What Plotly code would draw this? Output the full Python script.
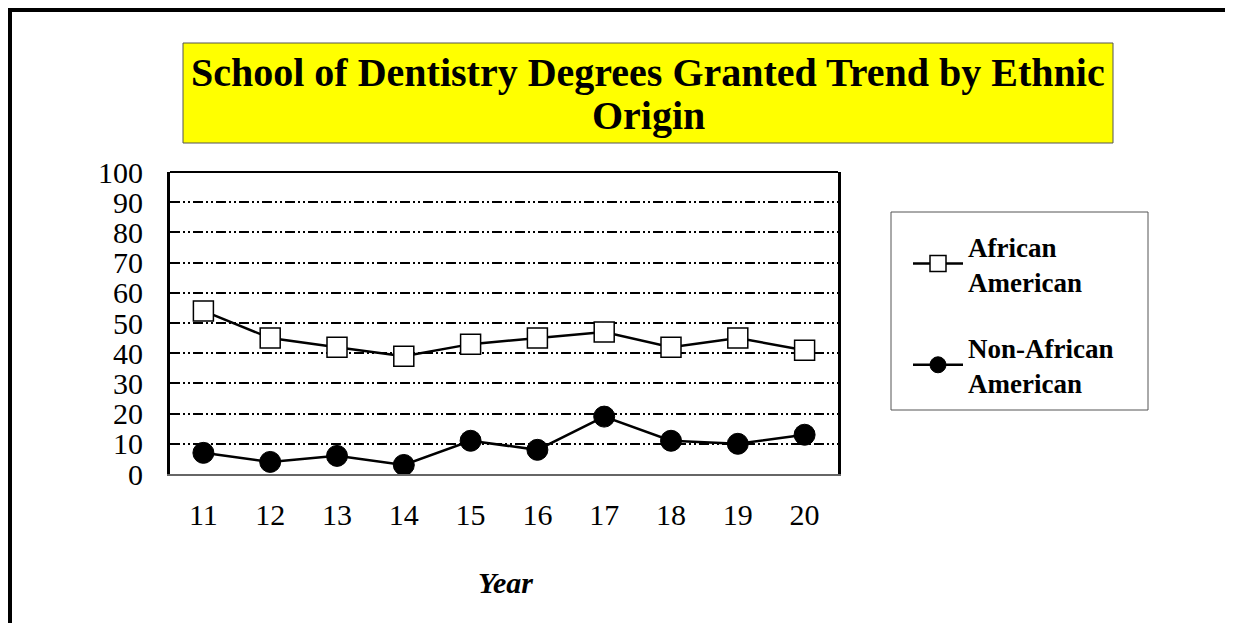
import plotly.graph_objects as go

years = ["11", "12", "13", "14", "15", "16", "17", "18", "19", "20"]
african_american = [54, 45, 42, 39, 43, 45, 47, 42, 45, 41]
non_african_american = [7, 4, 6, 3, 11, 8, 19, 11, 10, 13]

SERIF = "Liberation Serif, Times New Roman, serif"

# the page puts the figure 8px in from the window corner
OFF = 8
W, H = 1233 - OFF, 623 - OFF
# plot area in window pixels: x 170..838, y 172..474
L, R, T, B = 170 - OFF, 838 - OFF, 172 - OFF, 474 - OFF


def px(x):
    return (x - OFF - L) / (R - L)


def py(y):
    return (B - (y - OFF)) / (B - T)


fig = go.Figure()
fig.add_trace(go.Scatter(
    x=years, y=african_american, mode="lines+markers",
    name="<b>African<br>American</b>", legendgroup="a",
    line=dict(color="black", width=2.5),
    marker=dict(symbol="square", size=20, color="white",
                line=dict(color="black", width=1.5))))
fig.add_trace(go.Scatter(
    x=years, y=non_african_american, mode="lines+markers",
    name="<b>Non-African<br>American</b>", legendgroup="b",
    line=dict(color="black", width=2.5),
    marker=dict(symbol="circle", size=21, color="black",
                line=dict(color="black", width=1))))

shapes = [
    # outer frame (only its left and top edges are in view)
    dict(type="rect", xref="paper", yref="paper",
         x0=px(10), x1=px(1300), y0=py(700), y1=py(10),
         line=dict(color="black", width=4), layer="below"),
    # title box
    dict(type="rect", xref="paper", yref="paper",
         x0=px(183), x1=px(1113), y0=py(143), y1=py(43),
         fillcolor="#ffff00", line=dict(color="#555555", width=1), layer="below"),
    # legend box
    dict(type="rect", xref="paper", yref="paper",
         x0=px(891), x1=px(1148), y0=py(410), y1=py(212),
         line=dict(color="#555555", width=1), layer="below"),
    # top edge of plot area
    dict(type="line", xref="paper", yref="paper",
         x0=0, x1=1, y0=1, y1=1, line=dict(color="black", width=2)),
]

annotations = [
    dict(text="<b>School of Dentistry Degrees Granted Trend by Ethnic</b>",
         xref="paper", yref="paper", x=px(648), y=py(72),
         xanchor="center", yanchor="middle", showarrow=False,
         font=dict(family=SERIF, size=40, color="black")),
    dict(text="<b>Origin</b>",
         xref="paper", yref="paper", x=px(648), y=py(116),
         xanchor="center", yanchor="middle", showarrow=False,
         font=dict(family=SERIF, size=40, color="black")),
    dict(text="<b><i>Year</i></b>",
         xref="paper", yref="paper", x=px(505), y=py(582),
         xanchor="center", yanchor="middle", showarrow=False,
         font=dict(family=SERIF, size=30, color="black")),
]

fig.update_layout(
    width=W, height=H,
    margin=dict(l=L, r=W - R, t=T, b=H - B, pad=0),
    paper_bgcolor="white", plot_bgcolor="white",
    font=dict(family=SERIF, color="black"),
    shapes=shapes, annotations=annotations,
    showlegend=True,
    legend=dict(x=px(908), y=py(222), xanchor="left", yanchor="top",
                bgcolor="rgba(0,0,0,0)", borderwidth=0,
                font=dict(family=SERIF, size=27, color="black"),
                traceorder="grouped", tracegroupgap=28, itemwidth=50),
)
fig.update_xaxes(
    type="category", range=[-0.5, 9.5],
    showline=True, linecolor="#666666", linewidth=2,
    showgrid=False, ticks="", ticklabelstandoff=13,
    tickfont=dict(family=SERIF, size=30, color="black"))
fig.update_yaxes(
    range=[0, 100], dtick=10,
    showline=True, linecolor="black", linewidth=3, mirror=True,
    showgrid=True, gridcolor="black", gridwidth=2,
    griddash="10px,3px,2px,3px,2px,3px", zeroline=False,
    ticks="", ticklabelstandoff=18,
    tickfont=dict(family=SERIF, size=30, color="black"))

fig.write_html("out.html")
